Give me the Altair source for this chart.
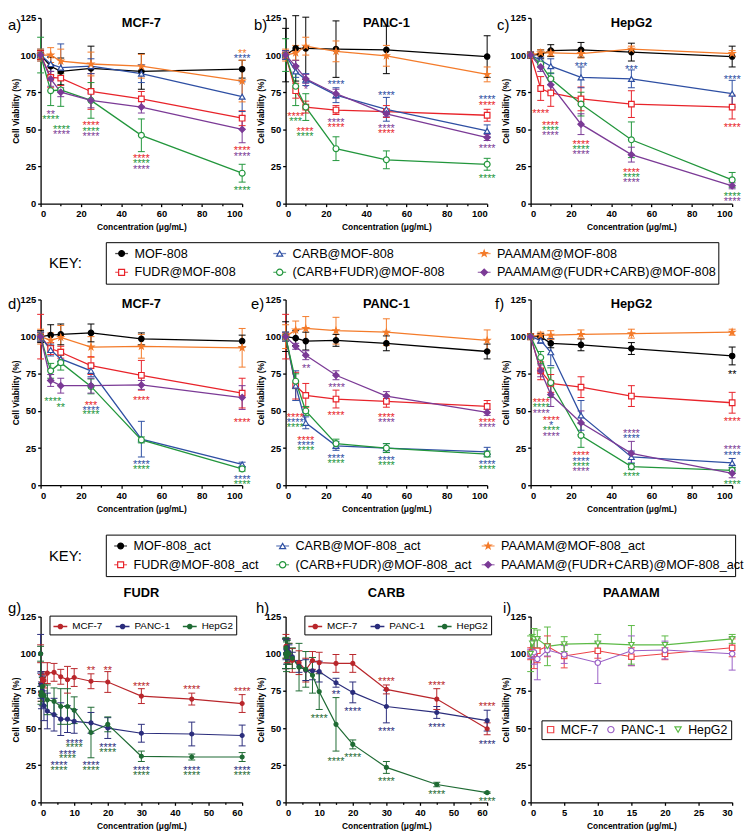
import altair as alt
import pandas as pd

FONT = "Liberation Sans"

# ---------------- rows 1 & 2 : MOF-808 formulations ----------------
conc = [0, 5, 10, 25, 50, 100]
series = ["MOF-808", "FUDR@MOF-808", "CARB@MOF-808", "(CARB+FUDR)@MOF-808",
          "PAAMAM@MOF-808", "PAAMAM@(FUDR+CARB)@MOF-808"]
series_act = [s + "_act" for s in series]

# panel a) MCF-7
a_mean = [[100, 92.5, 89, 91, 89, 90.5], [100, 85, 84.5, 75.5, 70.5, 57.5],
          [100, 94, 91.5, 92.5, 87.5, 72], [100, 76, 76.5, 69.5, 46, 20.5],
          [100, 100, 96, 94, 92.5, 82.5], [100, 84, 75, 69.5, 65, 50]]
a_err = [[3, 6, 9, 15, 12, 6], [3, 7, 5, 12, 5, 5], [4, 5, 16, 5, 6, 10],
         [12, 10, 11, 12, 11, 6], [4, 5, 8, 8, 8, 14], [2, 5, 3, 5, 4, 9]]
# panel b) PANC-1
b_mean = [[100, 104.5, 104.5, 104, 103.5, 99], [100, 76, 65, 63, 62, 59.5],
          [100, 89, 83.5, 73, 63.5, 49], [100, 79, 65, 37, 29.5, 26.5],
          [100, 101.5, 106, 102.5, 99.5, 87], [100, 92.5, 84, 74, 60.5, 44.5]]
b_err = [[18, 22, 21, 19, 16, 14], [3, 5, 4, 3, 4, 4], [3, 4, 4, 5, 8, 4],
         [11, 13, 9, 8, 6, 4], [4, 5, 6, 7, 7, 5], [2, 4, 3, 3, 2, 2]]
# panel c) HepG2
c_mean = [[100, 100.5, 103, 103.5, 102, 99], [100, 77.5, 74.5, 70.5, 67, 65],
          [100, 96.5, 92.5, 85, 84, 74], [100, 94, 84, 67, 43, 16],
          [100, 101.5, 101.5, 101, 104, 101], [100, 92, 80, 53.5, 33, 12]]
c_err = [[2, 3, 4, 5, 6, 7], [1, 8, 9, 8, 9, 8], [2, 2, 5, 7, 6, 9],
         [1, 2, 4, 8, 12, 5], [1, 2, 2, 3, 2, 2], [1, 3, 5, 7, 5, 2]]
# panel d) MCF-7 (_act)
d_mean = [[100, 101, 101.5, 102.5, 98.5, 97], [100, 92, 89.5, 80.5, 74, 62],
          [100, 91, 85, 77, 31, 14], [100, 77, 82.5, 66.5, 30.5, 11],
          [100, 97.5, 99.5, 93, 93.5, 92.5], [100, 70.5, 67, 67, 67.5, 59]]
d_err = [[4, 7, 7, 6, 4, 4], [15, 4, 4, 6, 10, 10], [3, 4, 4, 4, 12, 1.5],
         [3, 5, 5, 5, 2, 1.5], [5, 5, 8, 7, 8, 13], [3, 4, 5, 5, 3, 8]]
# panel e) PANC-1 (_act)
e_mean = [[100, 99, 97, 97.5, 95.5, 90], [100, 67, 60.5, 58, 56.5, 53],
          [100, 67, 42, 26.5, 25, 22.5], [100, 70, 50, 28, 25, 21],
          [100, 104.5, 105.5, 104, 103, 97.5], [100, 93.5, 87.5, 74, 60, 49]]
e_err = [[10, 5, 6, 4, 5, 5], [15, 9, 8, 6, 4, 4], [3, 10, 4, 3, 3, 3],
         [3, 5, 3, 3, 3, 2], [8, 6, 8, 9, 9, 7], [3, 2, 3, 3, 3, 2]]
# panel f) HepG2 (_act)
f_mean = [[100, 100, 95.5, 94.5, 92, 87], [100, 77, 68.5, 66, 60, 55.5],
          [100, 97.5, 89.5, 47, 19, 15], [100, 86, 69, 33.5, 12.5, 10],
          [100, 101, 101, 101.5, 102, 103], [100, 77, 61, 42, 21.5, 8]]
f_err = [[2, 2, 3, 4, 4, 6], [2, 6, 6, 7, 7, 7], [1, 2, 9, 10, 4, 3],
         [1, 4, 10, 8, 2, 2], [2, 2, 3, 3, 3, 2], [1, 4, 8, 8, 8, 3]]

# significance marks: (concentration, viability, text, series index)
a_stars = [(5, 62, "**", 5), (5, 58.5, "****", 3), (10.4, 52, "****", 3), (10.4, 48.7, "****", 5),
           (25, 54.4, "****", 1), (25, 50.8, "****", 3), (25, 47, "****", 5),
           (50, 32.4, "****", 1), (50, 28.7, "****", 3), (50, 25, "****", 5),
           (100, 103.2, "**", 4), (100, 99.6, "****", 2), (100, 37.4, "****", 1),
           (100, 33.6, "****", 5), (100, 10.5, "****", 3)]
b_stars = [(5, 60.4, "****", 1), (5, 57, "***", 3), (9.6, 50.8, "****", 1), (9.6, 47.2, "****", 3),
           (10, 78.5, "*", 5), (25, 82, "****", 2), (25, 56.3, "****", 5), (25, 53, "****", 1),
           (50, 74.6, "****", 2), (50, 52.4, "****", 5), (50, 49, "****", 1),
           (100, 71.9, "****", 2), (100, 68, "****", 1), (100, 38.7, "****", 5), (100, 18.5, "****", 3)]
c_stars = [(5, 62.7, "****", 1), (9.8, 54.6, "****", 1), (9.8, 51.2, "****", 3), (9.8, 47.6, "****", 5),
           (25, 94, "***", 2), (25, 42, "****", 1), (25, 38.5, "****", 3), (25, 35, "****", 5),
           (50, 92, "***", 2), (50, 23.2, "****", 1), (50, 19.8, "****", 3), (50, 16.3, "****", 5),
           (100, 85.3, "****", 2), (100, 53, "****", 1), (100, 7, "****", 3), (100, 3.2, "****", 5)]
d_stars = [(6, 58.5, "****", 3), (10, 54.3, "**", 3), (25, 55.8, "***", 1), (25, 52.5, "****", 2),
           (25, 49.2, "****", 3), (50, 58.7, "****", 1), (50, 15.8, "****", 2), (50, 12.5, "****", 3),
           (100, 44.4, "****", 1), (100, 5.9, "****", 2), (100, 2.3, "****", 3)]
e_stars = [(10.2, 80.2, "**", 5), (25.3, 67.7, "****", 5),
           (4.8, 47.3, "****", 1), (4.8, 44, "****", 2), (4.8, 40.5, "****", 3),
           (10, 32.3, "****", 1), (10, 28.8, "****", 2), (10, 25.3, "****", 3),
           (25, 48.8, "****", 1), (25, 19.8, "****", 2), (25, 16.3, "****", 3),
           (50, 47.3, "****", 1), (50, 44, "****", 5), (50, 18.7, "****", 2), (50, 15.2, "****", 3),
           (100, 44, "****", 1), (100, 40.7, "****", 5), (100, 15.8, "****", 2), (100, 12.2, "****", 3)]
f_stars = [(5.3, 57.6, "****", 1), (5.3, 54, "****", 3), (5.3, 50.4, "****", 5),
           (10.2, 45.5, "****", 1), (10.2, 42, "*", 2), (10.2, 38.5, "****", 3), (10.2, 35, "****", 5),
           (25, 21.8, "****", 1), (25, 18.2, "****", 2), (25, 14.6, "****", 3), (25, 11, "****", 5),
           (50, 36.7, "****", 5), (50, 33.3, "****", 2), (50, 7.5, "****", 3),
           (100, 76.7, "**", 0), (100, 45, "****", 1), (100, 25.7, "****", 5), (100, 22, "****", 2),
           (100, 2.6, "****", 3)]

# ---------------- row 3 : free drugs / PAAMAM ----------------
cells = ["MCF-7", "PANC-1", "HepG2"]
conc_drug = [0, 0.1, 0.25, 0.5, 1, 2, 4, 6, 8, 10, 15, 20, 30, 45, 60]
conc_pam = [0, 0.25, 0.5, 1, 2.5, 5, 10, 15, 20, 30]

g_mean = [[100, 73, 80, 83, 82, 87, 87.5, 84.5, 82.5, 84, 81.5, 81, 71.5, 69.5, 66.5],
          [100, 79, 72, 75, 65, 61.5, 59, 56, 56, 54.5, 53.5, 50, 46.5, 46, 45],
          [100, 72, 74, 78, 72, 69, 68, 64.5, 64.5, 62, 47, 52.5, 31, 30.5, 30.5]]
g_err = [[6, 5, 6, 5, 5, 7, 6, 5, 9, 6, 5, 7, 5, 4, 6],
         [13, 9, 9, 10, 10, 12, 11, 11, 9, 8, 7, 7, 6, 8, 7],
         [5, 6, 6, 6, 7, 10, 9, 12, 12, 9, 17, 5, 3.5, 2, 3]]
h_mean = [[100, 105, 100, 102, 100, 95.5, 94, 89, 95.5, 94, 93.5, 93.5, 76, 69.5, 49.5],
          [100, 103, 101, 104, 101, 98, 91.5, 89, 88.5, 88, 80.5, 74, 64.5, 60.5, 55],
          [100, 104, 98, 101, 100, 97, 91, 89.5, 85.5, 74.5, 52.5, 39, 23.5, 12, 6.5]]
h_err = [[10, 8, 10, 8, 7, 8, 8, 8, 6, 7, 6, 6, 3, 7, 4],
         [10, 7, 8, 6, 5, 3, 4, 7, 6, 7, 3, 7, 11, 4, 7],
         [10, 7, 10, 8, 7, 7, 16, 12, 12, 12, 18, 3, 4, 1.5, 0.5]]
i_mean = [[100, 101, 100, 102, 105, 98.5, 102, 98, 100, 104],
          [100, 100, 101, 96.5, 102.5, 99.5, 94, 102, 102.5, 100],
          [100, 107, 110, 110, 105, 106.5, 107, 106, 106, 110]]
i_err = [[4, 3, 10, 8, 7, 8, 5, 6, 4, 6],
         [3, 3, 8, 14, 4, 6, 14, 10, 6, 11],
         [12, 6, 7, 6, 13, 5, 6, 13, 6, 3]]

g_stars = [(15, 90.5, "**", 0), (20, 90.5, "**", 0), (30, 80, "****", 0), (45, 77.7, "****", 0),
           (60, 76.2, "****", 0), (5.5, 26.5, "****", 1), (5.5, 23.4, "****", 2),
           (8, 34.2, "****", 1), (8, 31.2, "****", 2), (10, 41.5, "****", 1), (10, 38.6, "****", 2),
           (15, 26.5, "****", 1), (15, 23.4, "****", 2), (20, 38.6, "****", 1), (20, 35.4, "****", 2),
           (30, 23.2, "****", 1), (30, 20.2, "****", 2), (45, 23.2, "****", 1), (45, 20.2, "****", 2),
           (60, 23.2, "****", 1), (60, 20.2, "****", 2)]
h_stars = [(15, 74.4, "**", 1), (10, 58.6, "****", 2), (20, 63, "****", 1),
           (15, 29.3, "****", 2), (20, 32.2, "****", 2),
           (30, 83.3, "****", 0), (30, 49.3, "****", 1), (30, 16.1, "****", 2),
           (45, 80.6, "****", 0), (45, 52, "****", 1), (45, 7.3, "****", 2),
           (60, 66.3, "****", 0), (60, 41, "****", 1), (60, 2.5, "****", 2)]

# axis minor tick positions
minor_100 = [10, 30, 50, 70, 90]
minor_60 = [5, 15, 25, 35, 45, 55]

# ---------------- styles ----------------
STAR = ("M0,-1L0.235,-0.324L0.951,-0.309L0.38,0.124L0.588,0.809L0,0.4"
        "L-0.588,0.809L-0.38,0.124L-0.951,-0.309L-0.235,-0.324Z")
LINE_DOT = "M-1,0H1M0.32,0A0.32,0.32,0,1,1,-0.32,0A0.32,0.32,0,1,1,0.32,0Z"
top_colors = ["#000000", "#e8232a", "#2e4fa3", "#22963c", "#f47b2a", "#7b3a96"]
top_shapes = ["circle", "square", "triangle-up", "circle", STAR, "diamond"]
top_fills = ["#000000", "white", "white", "white", "#f47b2a", "#7b3a96"]
top_sizes = [30, 40, 42, 38, 64, 36]
drug_colors = ["#b9262b", "#2b2d7c", "#1f6b34"]
pam_colors = ["#ee4348", "#9a60c6", "#5cba46"]
pam_shapes = ["square", "circle", "triangle-down"]

W, H = 204, 188
YT = [0, 25, 50, 75, 100, 125]


def long_df(xs, names, means, errs):
    rows = []
    for name, m, e in zip(names, means, errs):
        for c, v, er in zip(xs, m, e):
            rows.append({"c": c, "v": v, "lo": v - er, "hi": v + er, "s": name})
    return pd.DataFrame(rows)


def panel(xs, names, means, errs, stars, colors, shapes, fills, sizes, xmax, xstep,
          title, label, lab_x, lab_y, title_y, legend=None, lw=1.3, pstroke=1.2,
          shape_legend=None, mark_fill=None, minor=None):
    df = long_df(xs, names, means, errs)
    xsc = alt.Scale(domain=[0, xmax], nice=False, zero=False)
    xax = alt.Axis(values=list(range(0, xmax + 1, xstep)), title="Concentration (μg/mL)",
                   orient="bottom")
    ysc = alt.Scale(domain=[0, 125], nice=False)
    yax = alt.Axis(values=YT, title="Cell Viability (%)")
    X = lambda f: alt.X(f, scale=xsc, axis=None)
    Y = lambda f: alt.Y(f, scale=ysc, axis=yax)
    cs = alt.Scale(domain=names, range=colors)
    col = alt.Color("s:N", scale=cs, legend=legend)
    base = alt.Chart(df)
    bars = base.mark_rule(strokeWidth=1).encode(
        x=alt.X("c:Q", scale=xsc, axis=xax), y=Y("lo:Q"), y2="hi:Q", color=col)
    caps = base.transform_fold(["lo", "hi"], as_=["k", "cap"]).mark_rule(
        strokeWidth=1, xOffset=-3.5, x2Offset=3.5).encode(
        x=X("c:Q"), x2="c:Q", y=Y("cap:Q"), color=col)
    line = base.mark_line(strokeWidth=lw).encode(x=X("c:Q"), y=Y("v:Q"), color=col)
    pt_enc = dict(x=X("c:Q"), y=Y("v:Q"), color=col)
    if shapes is not None:
        pt_enc["shape"] = alt.Shape("s:N", scale=alt.Scale(domain=names, range=shapes),
                                    legend=shape_legend)
    if fills is not None:
        pt_enc["fill"] = alt.Fill("s:N", scale=alt.Scale(domain=names, range=fills), legend=legend)
    mk = dict(filled=False, opacity=1, strokeWidth=pstroke)
    if mark_fill is not None:
        mk["fill"] = mark_fill
    if isinstance(sizes, list):
        pt_enc["size"] = alt.Size("s:N", scale=alt.Scale(domain=names, range=sizes), legend=None)
        pts = base.mark_point(**mk).encode(**pt_enc)
    else:
        pts = base.mark_point(size=sizes, **mk).encode(**pt_enc)
    layers = [bars, caps, line, pts]
    if minor:
        layers.append(base.mark_point(opacity=0, size=1).encode(
            x=alt.X("c:Q", scale=xsc, axis=alt.Axis(values=minor, labels=False, title=None,
                                                    domain=False, tickSize=2, orient="bottom")),
            y=Y("v:Q")))
    if stars:
        sdf = pd.DataFrame(stars, columns=["c", "v", "t", "i"])
        sdf["s"] = [names[i] for i in sdf["i"]]
        layers.append(alt.Chart(sdf).mark_text(fontSize=11, baseline="alphabetic", dy=6.4,
                                              font=FONT).encode(
            x=X("c:Q"), y=Y("v:Q"), text="t:N", color=col))
    lab = alt.Chart(pd.DataFrame({"t": [label]})).mark_text(
        align="left", baseline="middle", fontSize=15, font=FONT, color="black").encode(
        x=alt.value(lab_x), y=alt.value(lab_y), text="t:N")
    ttl = alt.Chart(pd.DataFrame({"t": [title]})).mark_text(
        align="center", baseline="alphabetic", fontSize=13, fontWeight="bold", font=FONT,
        color="black").encode(x=alt.value(W / 2), y=alt.value(title_y), text="t:N")
    layers += [lab, ttl]
    return alt.layer(*layers).resolve_axis(x="independent").properties(width=W, height=H)


def key(names, colors, shapes, fills, sizes, col_pos, width):
    df = pd.DataFrame({"s": names,
                       "col": [i // 2 for i in range(len(names))],
                       "row": [i % 2 for i in range(len(names))]})
    X = alt.X("col:Q", scale=alt.Scale(domain=[0, 1, 2], range=col_pos), axis=None)
    Y = alt.Y("row:Q", scale=alt.Scale(domain=[0, 1], range=[11.5, 30.5]),
              axis=alt.Axis(title="KEY:", labels=False, ticks=False, domain=False, grid=False,
                            titleAngle=0, titleX=-58, titleY=21, titleAlign="left",
                            titleBaseline="middle", titleFontSize=15, titleFontWeight="normal",
                            titleFont=FONT))
    col = alt.Color("s:N", scale=alt.Scale(domain=names, range=colors), legend=None)
    base = alt.Chart(df)
    seg = base.mark_tick(orient="horizontal", size=13, thickness=1.3).encode(x=X, y=Y, color=col)
    pts = base.mark_point(filled=False, opacity=1, strokeWidth=1.2).encode(
        x=X, y=Y, color=col,
        shape=alt.Shape("s:N", scale=alt.Scale(domain=names, range=shapes), legend=None),
        fill=alt.Fill("s:N", scale=alt.Scale(domain=names, range=fills), legend=None),
        size=alt.Size("s:N", scale=alt.Scale(domain=names, range=sizes), legend=None))
    txt = base.mark_text(align="left", baseline="middle", dx=13, fontSize=12.8, font=FONT,
                         color="black").encode(x=X, y=Y, text="s:N")
    chart = alt.layer(seg, pts, txt).properties(
        width=width, height=42, view=alt.ViewBackground(stroke="black", strokeWidth=1))
    return alt.hconcat(blank(66, 42), chart, spacing=0, bounds="flush")


def blank(w, h):
    return alt.Chart(pd.DataFrame({"k": [0.5]})).mark_point(opacity=0, size=1).encode(
        x=alt.X("k:Q", axis=None, scale=alt.Scale(domain=[0, 1])),
        y=alt.Y("k:Q", axis=None, scale=alt.Scale(domain=[0, 1]))).properties(width=w, height=h)


RES = dict(color="independent", shape="independent", fill="independent", size="independent")

pa = panel(conc, series, a_mean, a_err, a_stars, top_colors, top_shapes, top_fills, top_sizes,
           100, 20, "MCF-7", "a)", -33, 7, 9, minor=minor_100)
pb = panel(conc, series, b_mean, b_err, b_stars, top_colors, top_shapes, top_fills, top_sizes,
           100, 20, "PANC-1", "b)", -32, 7, 9, minor=minor_100)
pc = panel(conc, series, c_mean, c_err, c_stars, top_colors, top_shapes, top_fills, top_sizes,
           100, 20, "HepG2", "c)", -34, 7, 9, minor=minor_100)
pd_ = panel(conc, series_act, d_mean, d_err, d_stars, top_colors, top_shapes, top_fills, top_sizes,
            100, 20, "MCF-7", "d)", -33, 5, 9, minor=minor_100)
pe = panel(conc, series_act, e_mean, e_err, e_stars, top_colors, top_shapes, top_fills, top_sizes,
           100, 20, "PANC-1", "e)", -35, 5, 9, minor=minor_100)
pf = panel(conc, series_act, f_mean, f_err, f_stars, top_colors, top_shapes, top_fills, top_sizes,
           100, 20, "HepG2", "f)", -36, 5, 9, minor=minor_100)

leg_drug = dict(orient="none", legendY=-1, direction="horizontal", title=None,
                strokeColor="black", padding=3, labelFontSize=10, labelFont=FONT,
                labelColor="black", symbolType=LINE_DOT, symbolSize=196, symbolStrokeWidth=1.3,
                columnPadding=10, labelOffset=4)
pg = panel(conc_drug, cells, g_mean, g_err, g_stars, drug_colors, None, drug_colors, 16,
           60, 10, "FUDR", "g)", -33, -9, -20, legend=alt.Legend(legendX=9, **leg_drug), lw=1.2,
           minor=minor_60)
ph = panel(conc_drug, cells, h_mean, h_err, h_stars, drug_colors, None, drug_colors, 16,
           60, 10, "CARB", "h)", -30, -9, -20, legend=alt.Legend(legendX=19, **leg_drug), lw=1.2,
           minor=minor_60)
pam_legend = alt.Legend(orient="none", legendX=11, legendY=105, direction="horizontal",
                        title=None, strokeColor="black", padding=3, labelFontSize=12.5,
                        labelFont=FONT, labelColor="black", symbolSize=40,
                        symbolStrokeWidth=1.2, symbolFillColor="white", columnPadding=6,
                        labelOffset=4)
pi = panel(conc_pam, cells, i_mean, i_err, [], pam_colors, pam_shapes, None, 30,
           30, 5, "PAAMAM", "i)", -28, -9, -20, legend=pam_legend, shape_legend=pam_legend,
           mark_fill="white", lw=1.1)

row1 = alt.hconcat(pa, pb, pc, spacing=44, bounds="flush").resolve_scale(**RES)
row2 = alt.hconcat(pd_, pe, pf, spacing=44, bounds="flush").resolve_scale(**RES)
row3 = alt.hconcat(pg, ph, pi, spacing=44, bounds="flush").resolve_scale(**RES)
key1 = key(series, top_colors, top_shapes, top_fills, [34, 44, 48, 44, 80, 40], [16, 176, 383], 620)
key2 = key(series_act, top_colors, top_shapes, top_fills, [34, 44, 48, 44, 80, 40], [15, 179, 387], 637)

chart = alt.vconcat(row1, key1.resolve_scale(**RES), row2, blank(10, 1),
                    key2.resolve_scale(**RES), row3,
                    spacing=10).resolve_scale(**RES).properties(padding=0).configure_view(
    stroke=None).configure_axis(
    domainColor="black", domainWidth=1.3, tickColor="black", tickWidth=1.3, tickSize=3,
    labelFont=FONT, labelFontWeight="bold", labelFontSize=9.5, labelColor="black", labelPadding=2,
    titleFont=FONT, titleFontWeight="bold", titleFontSize=8.5, titleColor="black", grid=False
).configure_axisX(titlePadding=5).configure_axisY(titlePadding=0)

chart.save("out.html", embed_options={"renderer": "svg", "actions": False})
